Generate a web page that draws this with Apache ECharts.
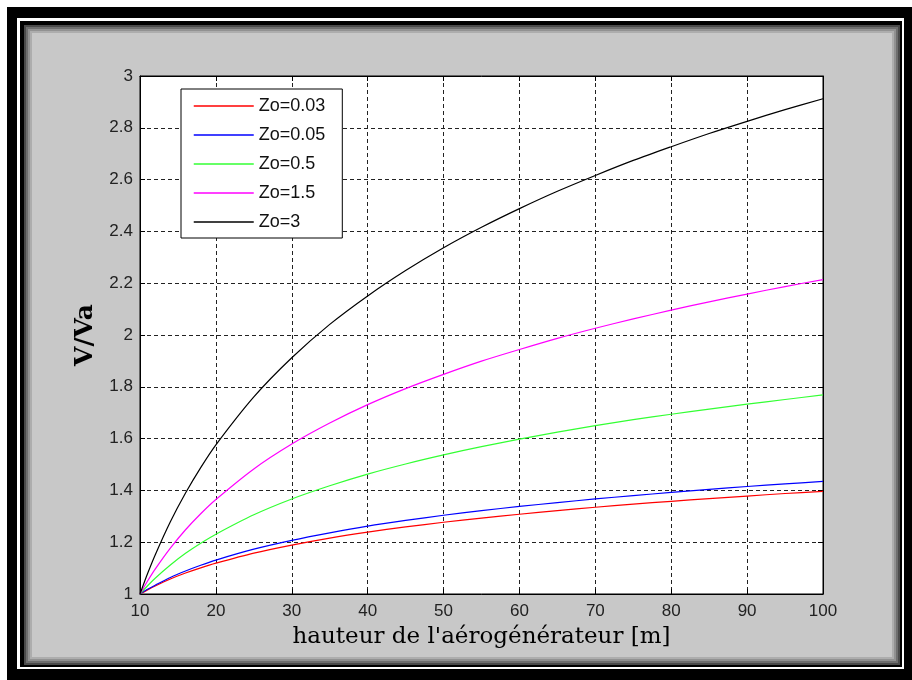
<!DOCTYPE html>
<html>
<head>
<meta charset="utf-8">
<script src="https://cdn.jsdelivr.net/npm/echarts@6/dist/echarts.min.js"></script>
<style>
html,body{margin:0;padding:0;background:#fff;}
#chart{width:912px;height:680px;}
</style>
</head>
<body>
<div id="chart"></div>
<script>
var heights = [10,11,12,14,16,18,20,25,30,35,40,45,50,55,60,65,70,75,80,85,90,95,100];
var seriesNames = ['Zo=0.03','Zo=0.05','Zo=0.5','Zo=1.5','Zo=3'];
var zo003 = [1.000,1.016,1.031,1.058,1.081,1.101,1.119,1.158,1.189,1.216,1.239,1.259,1.277,1.293,1.308,1.322,1.335,1.347,1.358,1.368,1.378,1.388,1.396];
var zo005 = [1.000,1.018,1.034,1.064,1.089,1.111,1.131,1.173,1.207,1.236,1.262,1.284,1.304,1.322,1.338,1.353,1.367,1.380,1.392,1.404,1.415,1.425,1.435];
var zo05  = [1.000,1.032,1.061,1.112,1.157,1.196,1.231,1.306,1.367,1.418,1.463,1.502,1.537,1.569,1.598,1.625,1.650,1.673,1.694,1.714,1.733,1.751,1.769];
var zo15  = [1.000,1.050,1.096,1.177,1.248,1.310,1.365,1.483,1.579,1.660,1.731,1.793,1.848,1.899,1.944,1.987,2.026,2.062,2.096,2.128,2.158,2.187,2.214];
var zo3   = [1.000,1.079,1.151,1.279,1.390,1.488,1.576,1.761,1.912,2.041,2.151,2.249,2.337,2.416,2.488,2.555,2.616,2.674,2.727,2.778,2.825,2.870,2.912];
var seriesValues = [zo003, zo005, zo05, zo15, zo3];
var colors = ['#ff0000','#0000ff','#33ff33','#ff00ff','#000000'];

var chart = echarts.init(document.getElementById('chart'), null, {renderer:'canvas'});

function pairs(vals){ return heights.map(function(h,i){ return [h, vals[i]]; }); }

var series = seriesNames.map(function(n, k){
  return {
    name: n, type: 'line', data: pairs(seriesValues[k]),
    symbol: 'none', smooth: 0.3, xAxisIndex: 0, yAxisIndex: 0,
    lineStyle: {color: colors[k], width: 1.2},
    itemStyle: {color: colors[k]}
  };
});

function bevel(){
  var els = [
    {x:7,y:7,w:905,h:673,c:'#000000'},
    {x:17,y:18,w:887,h:651,c:'#ffffff'},
    {x:20,y:21,w:882,h:646,c:'#000000'},
    {x:24,y:25,w:876,h:640,c:'#4a4a4a'},
    {x:26,y:27,w:872,h:636,c:'#6e6e6e'},
    {x:28,y:29,w:868,h:632,c:'#919191'},
    {x:30,y:31,w:864,h:628,c:'#adadad'},
    {x:32,y:33,w:860,h:624,c:'#c8c8c8'}
  ];
  return els.map(function(e,i){
    return {type:'rect', z:-10+i*0.01, zlevel:0, silent:true,
      shape:{x:e.x,y:e.y,width:e.w,height:e.h}, style:{fill:e.c}};
  });
}

var tickFont = {fontFamily:'Liberation Sans', fontSize:17, color:'#222'};
var gridLine = {show:true, lineStyle:{color:'#222', width:1, type:[4,3]}};

chart.setOption({
  animation: false,
  backgroundColor: '#ffffff',
  graphic: {elements: bevel()},
  grid: {left:140, right:89, top:76, bottom:86, show:true, backgroundColor:'#ffffff', borderColor:'#000', borderWidth:1},
  legend: {
    orient:'vertical', left:181, top:89,
    data: seriesNames,
    itemWidth:60, itemHeight:14, itemGap:11,
    padding:[8,17,7,12],
    backgroundColor:'#ffffff', borderColor:'#000', borderWidth:1,
    textStyle:{fontFamily:'Liberation Sans', fontSize:18, color:'#111'},
    itemStyle:{opacity:0},
    lineStyle:{width:1.5}
  },
  xAxis: [{
    type:'value', min:10, max:100, interval:10, position:'bottom',
    name:"hauteur de l'aérogénérateur [m]", nameLocation:'middle', nameGap:32,
    nameTextStyle:{fontFamily:'DejaVu Serif', fontSize:23, color:'#000'},
    axisLine:{show:true, onZero:false, lineStyle:{color:'#000', width:1}},
    axisTick:{show:true, inside:true, length:5, lineStyle:{color:'#000'}},
    axisLabel:Object.assign({margin:9}, tickFont),
    splitLine: gridLine
  },{
    type:'value', min:10, max:100, interval:10, position:'top',
    axisLine:{show:true, onZero:false, lineStyle:{color:'#000', width:1}},
    axisTick:{show:true, inside:true, length:5, lineStyle:{color:'#000'}},
    axisLabel:{show:false}, splitLine:{show:false}
  }],
  yAxis: [{
    type:'value', min:1, max:3, interval:0.2, position:'left',
    name:'V/Va', nameLocation:'middle', nameGap:42,
    nameTextStyle:{fontFamily:'DejaVu Serif', fontSize:25, fontWeight:'bold', color:'#000'},
    axisLine:{show:true, onZero:false, lineStyle:{color:'#000', width:1}},
    axisTick:{show:true, inside:true, length:5, lineStyle:{color:'#000'}},
    axisLabel:Object.assign({margin:7}, tickFont),
    splitLine: gridLine
  },{
    type:'value', min:1, max:3, interval:0.2, position:'right',
    axisLine:{show:true, onZero:false, lineStyle:{color:'#000', width:1}},
    axisTick:{show:true, inside:true, length:5, lineStyle:{color:'#000'}},
    axisLabel:{show:false}, splitLine:{show:false}
  }],
  series: series
});
</script>
</body>
</html>
